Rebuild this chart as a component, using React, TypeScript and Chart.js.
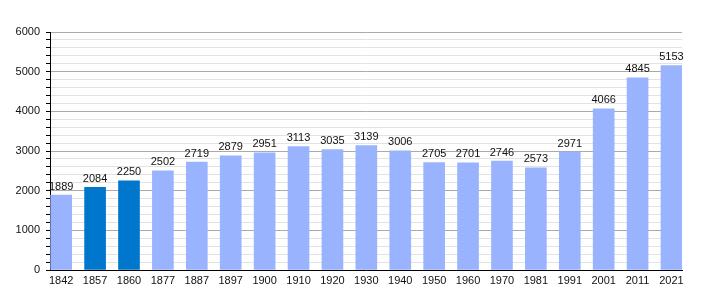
import React, { useEffect, useRef } from "react";
import { Chart, registerables } from "chart.js";

Chart.register(...registerables);

const years = ["1842", "1857", "1860", "1877", "1887", "1897", "1900", "1910", "1920", "1930", "1940", "1950", "1960", "1970", "1981", "1991", "2001", "2011", "2021"];
const population = [1889, 2084, 2250, 2502, 2719, 2879, 2951, 3113, 3035, 3139, 3006, 2705, 2701, 2746, 2573, 2971, 4066, 4845, 5153];
const darkYears = ["1857", "1860"];
const yTickStep = 200;
const yLabelStep = 1000;

const FONT = "'Liberation Sans', Arial, sans-serif";

const valueLabels = {
  id: "valueLabels",
  afterDatasetsDraw(chart: any) {
    const ctx = chart.ctx;
    const meta = chart.getDatasetMeta(0);
    ctx.save();
    ctx.font = `11px ${FONT}`;
    ctx.fillStyle = "#111";
    ctx.textAlign = "center";
    ctx.textBaseline = "bottom";
    meta.data.forEach((el: any, i: number) => {
      ctx.fillText(String(population[i]), el.x, el.y - 3);
    });
    ctx.restore();
  },
};

export default function App() {
  const ref = useRef<HTMLCanvasElement>(null);
  useEffect(() => {
    document.body.style.margin = "0";
    const chart = new Chart(ref.current!, {
      type: "bar",
      data: {
        datasets: [
          {
            data: population.map((v, i) => ({ x: i, y: v })),
            backgroundColor: years.map((y) => (darkYears.includes(y) ? "#0077cc" : "#99b3ff")),
            barThickness: 21,
          },
        ],
      },
      options: {
        responsive: false,
        animation: false,
        layout: { padding: { left: 0, right: 28, top: 32, bottom: 0 } },
        plugins: { legend: { display: false }, tooltip: { enabled: false } },
        scales: {
          x: {
            type: "linear",
            offset: false,
            min: -0.33,
            max: 18.31,
            grid: { display: false, drawTicks: false, offset: false },
            border: { display: true, color: "#000", width: 1 },
            afterFit(scale: any) {
              scale.height = 30;
            },
            ticks: {
              stepSize: 1,
              includeBounds: false,
              autoSkip: false,
              maxRotation: 0,
              padding: 4,
              color: "#111",
              font: { family: FONT, size: 11 },
              callback: (v: any) => (Number.isInteger(v) && years[v] ? years[v] : ""),
            },
          },
          y: {
            min: 0,
            max: 6000,
            afterFit(scale: any) {
              scale.width = 50;
            },
            grid: {
              color: (c: any) => (c.tick && c.tick.value % yLabelStep === 0 ? "#aaaaaa" : "#e2e2e2"),
              tickColor: "#000",
              tickLength: 4,
            },
            border: { display: true, color: "#000", width: 1 },
            ticks: {
              stepSize: yTickStep,
              autoSkip: false,
              padding: 6,
              color: "#111",
              font: { family: FONT, size: 11 },
              callback: (v: any) => (v % yLabelStep === 0 ? String(v) : ""),
            },
          },
        },
      },
      plugins: [valueLabels],
    });
    return () => chart.destroy();
  }, []);
  return <canvas ref={ref} width={710} height={300} style={{ display: "block" }} />;
}
